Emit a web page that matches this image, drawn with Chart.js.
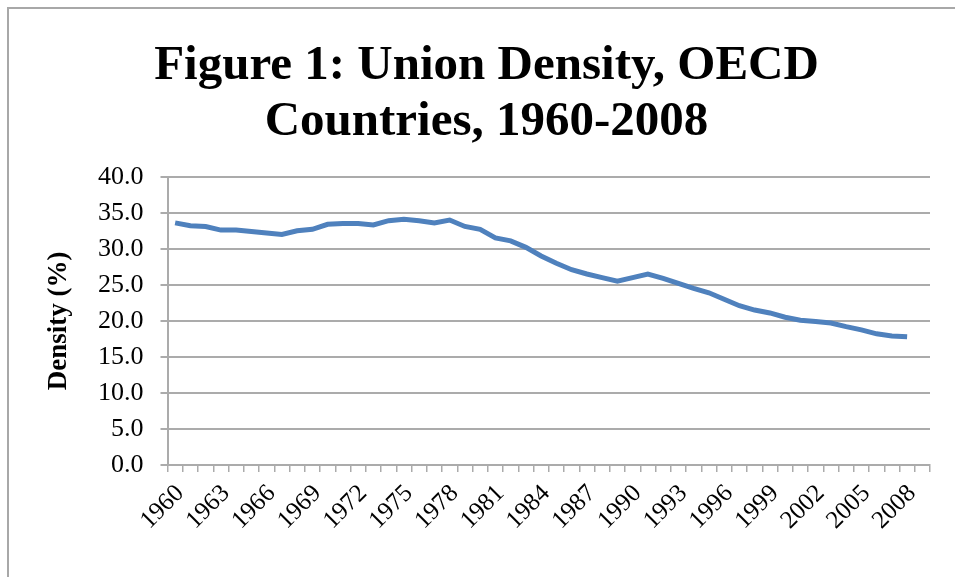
<!DOCTYPE html>
<html>
<head>
<meta charset="utf-8">
<script src="https://cdn.jsdelivr.net/npm/chart.js@4"></script>
<style>
  body { margin: 0; overflow: hidden; background: #fff; }
  #box { position: absolute; left: 7px; top: 7px; width: 964px; height: 620px; border: 2px solid #a8a8a8; }
  canvas { display: block; }
</style>
</head>
<body>
<div id="box"><canvas id="chart" width="964" height="620"></canvas></div>
<script>
// years on the axis (last category has no value)
const years = [];
for (let y = 1960; y <= 2009; y++) years.push(String(y));

// union density, %
const density = [
  33.6, 33.2, 33.1, 32.6, 32.6, 32.4, 32.2, 32.0, 32.5, 32.7,
  33.4, 33.5, 33.5, 33.3, 33.9, 34.1, 33.9, 33.6, 34.0, 33.1,
  32.7, 31.5, 31.1, 30.2, 29.0, 28.0, 27.1, 26.5, 26.0, 25.5,
  26.0, 26.5, 25.9, 25.2, 24.5, 23.9, 23.0, 22.1, 21.5, 21.1,
  20.5, 20.1, 19.9, 19.7, 19.2, 18.75, 18.2, 17.9, 17.8, null
];

const serif = "'Liberation Serif', 'Times New Roman', serif";
const gridGray = '#ababab';

new Chart(document.getElementById('chart'), {
  type: 'line',
  data: {
    labels: years,
    datasets: [{
      label: 'Density',
      data: density,
      borderColor: '#4f81bd',
      borderWidth: 5,
      pointRadius: 0,
      tension: 0,
      spanGaps: false
    }]
  },
  options: {
    responsive: false,
    animation: false,
    layout: { padding: { left: 34, right: 43, top: 0, bottom: 0 } },
    plugins: {
      legend: { display: false },
      tooltip: { enabled: false },
      title: {
        display: true,
        text: ['Figure 1: Union Density, OECD', 'Countries, 1960-2008'],
        color: '#000',
        font: { family: serif, size: 49, weight: 'bold', lineHeight: 1.13 },
        padding: { top: 30, bottom: 27 }
      }
    },
    scales: {
      x: {
        offset: true,
        grid: { drawOnChartArea: false, drawTicks: true, tickLength: 7, color: gridGray, lineWidth: 1.5, offset: true },
        border: { color: gridGray, width: 2 },
        ticks: {
          autoSkip: false,
          maxRotation: 45,
          minRotation: 45,
          padding: 7,
          labelOffset: 5,
          color: '#000',
          font: { family: serif, size: 25 },
          callback: (v, i) => (i % 3 === 0 ? years[i] : '')
        },
        afterFit: s => { s.height = 164; }
      },
      y: {
        min: 0,
        max: 40,
        grid: { color: gridGray, lineWidth: 2, tickLength: 7 },
        border: { color: gridGray, width: 2 },
        ticks: {
          stepSize: 5,
          padding: 17,
          color: '#000',
          font: { family: serif, size: 26 },
          callback: v => v.toFixed(1)
        },
        title: {
          display: true,
          text: 'Density (%)',
          color: '#000',
          font: { family: serif, size: 27, weight: 'bold' },
          padding: 0
        },
        afterFit: s => { s.width = 124.5; }
      }
    }
  }
});
</script>
</body>
</html>
